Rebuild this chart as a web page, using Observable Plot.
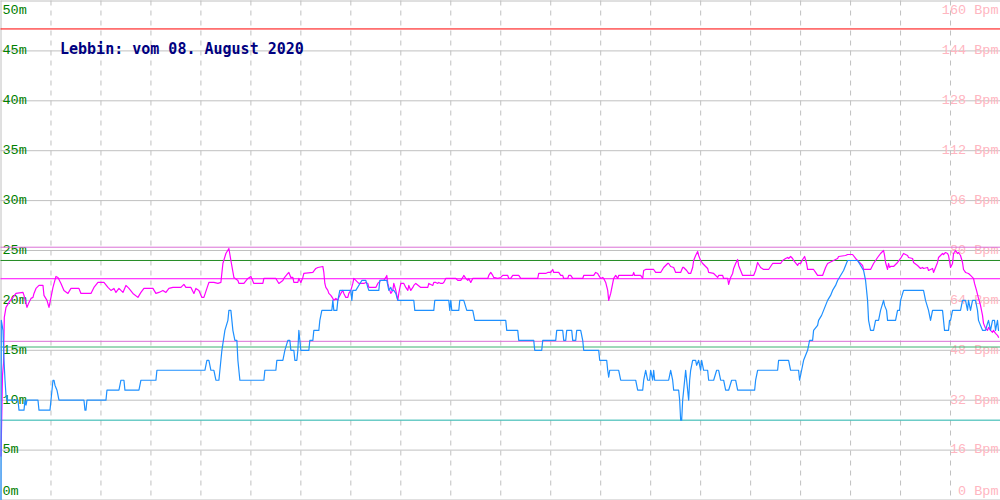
<!DOCTYPE html>
<html>
<head>
<meta charset="utf-8">
<script src="https://cdn.jsdelivr.net/npm/d3@7"></script>
<script src="https://cdn.jsdelivr.net/npm/@observablehq/plot@0.6"></script>
<style>
  html, body { margin: 0; padding: 0; background: #fff; }
  #chart svg { display: block; }
</style>
</head>
<body>
<div id="chart"></div>
<script>
// ---- Data (time index 0..1000, values in metres on the left scale) ----
const titleText = "Lebbin: vom 08. August 2020";

const depthTicks = [0, 5, 10, 15, 20, 25, 30, 35, 40, 45, 50];
const depthTickLabels = ["0m", "5m", "10m", "15m", "20m", "25m", "30m", "35m", "40m", "45m", "50m"];
const pulseTickLabels = ["0 Bpm", "16 Bpm", "32 Bpm", "48 Bpm", "64 Bpm", "80 Bpm", "96 Bpm", "112 Bpm", "128 Bpm", "144 Bpm", "160 Bpm"];
const timeGrid = [50, 100, 150, 200, 250, 300, 350, 400, 450, 500, 550, 600, 650, 700, 750, 800, 850, 900, 950];

// reference levels (m)
const levelRed = 47.2;
const levelOrchidHigh = 25.33;
const levelGreenHigh = 24.0;
const levelMagenta = 22.17;
const levelOrchidLow = 15.9;
const levelGreenLow = 15.33;
const levelTeal = 8.0;

// blue series [time, m]
const blueSeries = [
[0,0],[0.3,18],[2,17],[3,14],[4,12],[5,10.5],[6,10],[17,10],[18,9],[23,9],[24,10],[25,9.5],[26,10],[37,10],[38,9],[49,9],[50,10],[52,12],[53,12],[54,11.5],[56,11],[58,10],[83,10],[84,9],[85,9],[86,10],[105,10],[106,11],[118,11],[120,12],[123,12],[124,11],[138,11],[140,12],[155,12],[156,13],[204,13],[206,14],[208,14],[210,13],[213,13],[215,12],[218,12],[219,13],[221,15],[224,17],[227,18],[228,19],[230,19],[232,17],[234,16],[236,16],[237,14],[239,12],[250,12],
[263,12],[264,13],[275,13],[276,14],[282,14],[284,15],[287,16],[289,16],[290,15],[293,15],[294,14],[296,14],[297,15],[298,17],[299,16],[300,15],[308,15],[309,16],[312,16],[313,17],[318,17],[319,18],[321,19],[331,19],[332,20],[333,19],[336,19],[337,20],[339,21],[350,21],[351,20],[352,21],[355,21],[361,22],[365,22],[367,21.3],[368,21],[378,21],[379,22],[386,22],[388,21],[390,21.3],[391,21],[393,21],[395,20.7],[397,20],[413,20],[414,19],[433,19],[434,20],[448,20],[449,19],[450,20],[451,19],[453,19],[458,19],[459,20],[463,20],[466,19],[472,19],[474,18],[500,18],
[505,18],[506,17],[517,17],[518,16],[533,16],[534,15],[541,15],[542,16],[555,16],[556,17],[562,17],[563,16],[565,16],[566,17],[571,17],[572,16],[575,16],[576,17],[580,17],[582,16],[583,15],[598,15],[599,14],[606,14],[607,13],[608,12.3],[609,13],[618,13],[620,12],[635,12],[637,11],[642,11],[643,12],[645,13],[647,12],[649,12],[650,13],[652,12],[653,13],[654,12],[668,12],[670,13],[672,12],[673,11],[678,11],[679,10],[680,8],[681,8],[682,10],[683,11],[684,12],[685,13],[686,12],[687,11],[688,10],[689,12],[690,13],[692,14],[695,14],[696,13.5],[698,14],[700,13],[701,14],[703,13],[707,13],[708,12],[713,12],[716,13],[718,13],[720,12],[723,12],[725,11],[728,11],[731,12],[735,12],[737,11],[750,11],
[754,11],[755,12],[757,13],[777,13],[778,14],[788,14],[790,13],[798,13],[799,12],[800,12.5],[803,14],[805,14.5],[807,15],[809,16],[812,16],[813,17],[817,17.5],[818,18],[821,18.5],[823,19],[825,19.5],[827,20],[830,20.5],[832,21],[835,21.5],[837,22],[840,22.5],[843,23],[845,23.5],[847,24],[857,24],[860,23.5],[863,23],[865,22],[866,21],[867,20],[868,18],[869,17.5],[870,17],[873,17],[875,18],[878,18],[880,19],[883,20],[884,19.5],[886,19],[887,18],[895,18],[897,19],[899,19],[900,20],[903,21],[923,21],[925,20],[928,19],[930,18],[931,18.5],[932,19],[942,19],[943,18],[944,17],[948,17],[949,18],[950,18],[952,19],[960,19],[962,20],[965,20],[966,19.5],[967,19],[968,20],[970,19],[972,20],[975,20],[977,19],[978,18],[980,17.5],[982,17],[985,17],[987,17.7],[988,18],[990,17],[992,18],[994,18],[995,17],[997,18],[998,17]
];

// magenta series [time, m]
const magentaSeries = [
[0,4.4],[1.5,12.5],[2.5,13.7],[3.3,18.3],[5,19.3],[8,19.8],[15,20.7],[22,20.8],[23,20.5],[26,19.3],[28,19.8],[30,20.2],[32,20.3],[33,20.7],[35,21.2],[38,21.5],[42,21.5],[43,20.5],[46,20],[48,19.3],[50,20.3],[52,21.3],[55,22.4],[57,22.3],[60,21.7],[63,21],[67,20.7],[70,21.2],[78,21.2],[80,20.7],[90,20.7],[93,21.3],[97,21.8],[103,21.8],[107,21.3],[110,21],[113,21.2],[115,20.8],[118,21.2],[122,20.8],[125,21.5],[128,21.2],[132,20.7],[137,20.3],[140,20.8],[143,21.2],[152,21.2],[155,20.7],[158,20.8],[162,21],[165,20.8],[168,21.2],[172,21.3],[180,21.3],[183,21.6],[185,21.3],[190,21.3],[193,20.7],[195,21.2],[198,21],[201,20.3],[203,20.3],[207,21.5],[208,21.8],[213,21.8],[217,21.7],[220,21.8],[222,23.7],[225,24.7],[228,25.2],[230,24],[233,22.3],[237,22],[238,21.7],[243,21.7],[247,22.2],[250,22.4],
[253,21.7],[262,21.7],[263,22.2],[275,22.2],[278,21.7],[282,22],[283,22.2],[287,22.7],[288,22.8],[290,22.3],[292,22.3],[293,21.8],[297,21.8],[298,22.2],[300,21.8],[302,22.3],[303,22.7],[312,22.8],[315,23.2],[317,23.3],[322,23.4],[323,22.8],[324,21.7],[325,21.3],[327,21],[328,20.7],[330,20.5],[332,20.2],[333,20],[335,20.2],[337,20],[338,20.3],[340,20.7],[342,21],[343,20.7],[345,20.3],[347,20.3],[348,20.7],[350,21],[352,21.7],[353,22.2],[357,21.8],[358,21.7],[363,21.7],[365,21.8],[367,21.7],[368,21.3],[375,21.3],[377,21.7],[378,21.8],[380,22],[383,22],[385,22.3],[386,22.5],[387,21.7],[388,21.3],[390,20.7],[392,21],[393,21.7],[395,21],[397,20],[398,20.7],[400,21.7],[403,21.7],[405,21.3],[407,21],[408,21.5],[410,21],[412,21.3],[413,21.5],[415,21.7],[420,21.3],[427,21.3],[428,21.7],[432,21.5],[433,21.8],[435,21.8],[437,21.7],[438,21.8],[440,21.7],[442,21.7],[443,21.8],[445,22.2],[450,22.2],[455,22.2],[457,22],[460,22],[462,22.3],[463,22.5],[465,22.2],[467,22],[468,22.2],[470,21.8],[472,22.2],[487,22.2],[488,22.5],[490,22.8],[492,22.5],[493,22.3],[497,22.2],[500,22.3],
[502,22.5],[507,22.5],[508,22.2],[510,22.2],[512,22.5],[518,22.5],[520,22.2],[537,22.2],[538,22.7],[545,22.7],[547,22.8],[550,22.8],[552,23.1],[553,22.8],[558,22.8],[560,22.5],[562,22.5],[563,22.2],[567,22.2],[568,22.5],[570,22.5],[572,22.2],[582,22.2],[583,22.5],[593,22.5],[595,22.8],[597,22.7],[598,22.5],[600,22.2],[602,22.3],[603,22.2],[605,21.8],[607,21],[608,20],[610,20.7],[612,21.7],[613,22.2],[615,22.5],[617,22.2],[618,22.5],[632,22.5],[633,22.8],[634,22.5],[640,22.5],[642,22.2],[643,23],[645,23.1],[653,23.1],[655,22.8],[660,22.8],[663,23.3],[667,23.7],[668,23.7],[670,23.4],[673,23.3],[675,22.8],[680,22.8],[682,23.3],[683,23.3],[686,23],[688,22.7],[690,22.7],[692,23.3],[693,24],[695,24.5],[697,24.9],[698,24.5],[700,24],[702,23.7],[707,23.2],[708,22.8],[713,22.7],[717,22.3],[718,22.5],[722,22.5],[723,22.2],[727,22.2],[728,21.6],[730,22.3],[732,22.7],[733,23.2],[735,23.7],[737,24.1],[738,23.5],[740,23],[742,22.5],[750,22.5],
[753,22.5],[755,23],[757,23.8],[760,23.3],[763,23.1],[768,23.1],[770,23.4],[772,23.7],[780,23.7],[782,24],[785,24.2],[787,24.3],[788,24.2],[790,24.4],[792,24.2],[793,24],[797,23.5],[798,23.7],[800,23.7],[802,24.1],[804,24.4],[806,23.7],[807,23.1],[813,23.1],[815,22.8],[817,22.5],[822,22.5],[825,23.3],[827,23.7],[833,24],[837,24.2],[838,24.4],[845,24.5],[847,24.6],[852,24.6],[855,24.2],[857,24],[862,23.5],[863,23.1],[870,23.1],[873,23.7],[877,24.3],[880,24.7],[883,25],[884,24.5],[885,23.8],[887,23.1],[888,23.7],[889,23.3],[890,23.4],[893,23.4],[897,23.8],[900,24.2],[903,24.7],[907,24.5],[908,24.3],[912,24.2],[913,23.8],[917,23.5],[920,23.2],[922,23.3],[923,23.2],[927,23.3],[928,23],[932,23.2],[933,22.8],[935,23.3],[937,23.8],[938,24.3],[940,24.5],[942,24.7],[943,24.6],[945,24.8],[947,24.7],[948,24.5],[950,23.3],[952,23.7],[953,24.7],[955,25],[957,24.7],[958,24.8],[960,24.5],[962,23.8],[963,23.1],[965,22.8],[968,22.7],[970,22.5],[973,22.2],[974,21.7],[976,21],[978,20.2],[980,19.5],[982,18.5],[983,17.7],[985,17.2],[987,17],[988,17.3],[990,17],[992,16.8],[993,17],[995,16.7],[997,16.5],[998,16.3]
];

// ---- Chart ----
const tickRows = depthTicks.map((t, i) => ({t, left: depthTickLabels[i], right: pulseTickLabels[i]}));
const midRows = tickRows.filter(d => d.t > 0 && d.t < 50);
const topRows = tickRows.filter(d => d.t === 50);
const botRows = tickRows.filter(d => d.t === 0);
const labelFont = "'Liberation Mono', 'DejaVu Sans Mono', monospace";
const titleFont = "'DejaVu Sans Mono', 'Liberation Mono', monospace";
const labelSize = 13.5;

function labelMarks(rows, dy) {
  return [
    Plot.text(rows, {y: "t", text: "left", frameAnchor: "left", textAnchor: "start", lineAnchor: "middle",
      dx: 1.5, dy, fill: "#008000", fontSize: labelSize, fontFamily: labelFont}),
    Plot.text(rows, {y: "t", text: "right", frameAnchor: "right", textAnchor: "end", lineAnchor: "middle",
      dx: -2, dy, fill: "#ffb6c1", fontSize: labelSize, fontFamily: labelFont})
  ];
}

const chart = Plot.plot({
  width: 1000,
  height: 500,
  marginTop: 0.5,
  marginBottom: 0.5,
  marginLeft: 0.5,
  marginRight: 0,
  style: {background: "#fff", overflow: "visible"},
  x: {domain: [0, 1000], axis: null},
  y: {domain: [0, 50], axis: null},
  marks: [
    Plot.ruleY(depthTicks, {stroke: "#c0c0c0", strokeWidth: 1}),
    Plot.ruleX(timeGrid, {stroke: "#c0c0c0", strokeDasharray: "5,5", strokeWidth: 1}),
    Plot.ruleX([0], {stroke: "#c0c0c0", strokeWidth: 1}),
    ...labelMarks(midRows, -1),
    ...labelMarks(topRows, 9),
    ...labelMarks(botRows, -9),
    Plot.text([titleText], {frameAnchor: "top-left", textAnchor: "start", lineAnchor: "top",
      dx: 59, dy: 42, fill: "#000080", fontSize: 15, fontWeight: "bold", fontFamily: titleFont}),
    Plot.ruleY([levelRed], {stroke: "#ff0000", strokeWidth: 1}),
    Plot.ruleY([levelOrchidHigh], {stroke: "#da70d6", strokeWidth: 1}),
    Plot.ruleY([levelGreenHigh], {stroke: "#228b22", strokeWidth: 1}),
    Plot.ruleY([levelMagenta], {stroke: "#ff00ff", strokeWidth: 1}),
    Plot.ruleY([levelOrchidLow], {stroke: "#da70d6", strokeWidth: 1}),
    Plot.ruleY([levelGreenLow], {stroke: "#3cb371", strokeWidth: 1}),
    Plot.ruleY([levelTeal], {stroke: "#20b2aa", strokeWidth: 1}),
    Plot.line(magentaSeries, {x: d => d[0], y: d => d[1], stroke: "#ff00ff", strokeWidth: 1.2}),
    Plot.line(blueSeries, {x: d => d[0], y: d => d[1], stroke: "#1e90ff", strokeWidth: 1.2})
  ]
});
document.getElementById("chart").appendChild(chart);
</script>
</body>
</html>
